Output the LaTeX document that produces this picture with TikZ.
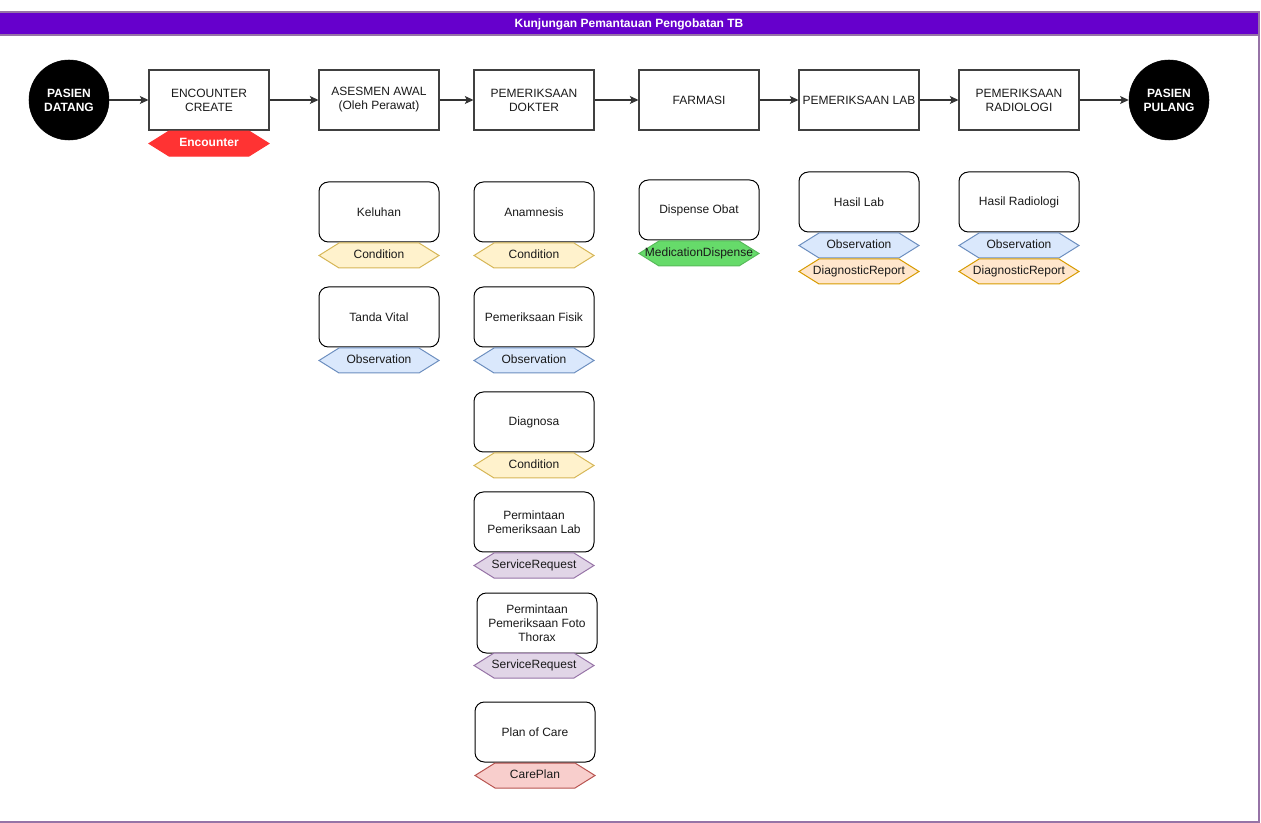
\documentclass[tikz,border=0pt]{standalone}
\usepackage{fontspec}
\setmainfont{Liberation Sans}
\usepackage{xcolor}
\usetikzlibrary{shapes.symbols,arrows.meta,positioning}

\definecolor{lanebar}{HTML}{6600CC}
\definecolor{laneline}{HTML}{9673A6}
\definecolor{inktext}{HTML}{1A1A1A}
\definecolor{condfill}{HTML}{FFF2CC}
\definecolor{condline}{HTML}{D6B656}
\definecolor{obsfill}{HTML}{DAE8FC}
\definecolor{obsline}{HTML}{6C8EBF}
\definecolor{reqfill}{HTML}{E1D5E7}
\definecolor{reqline}{HTML}{9673A6}
\definecolor{carefill}{HTML}{F8CECC}
\definecolor{careline}{HTML}{B85450}
\definecolor{repfill}{HTML}{FFE6CC}
\definecolor{repline}{HTML}{D79B00}
\definecolor{medfill}{HTML}{66DB6A}
\definecolor{encfill}{HTML}{FF3333}

\begin{document}
\begin{tikzpicture}[
  x=0.75pt,y=-0.75pt,
  node distance=0pt,
  every node/.style={font=\fontsize{9}{10.5}\selectfont,text=inktext},
  endpoint/.style={circle,fill=black,draw=black,minimum size=60pt,inner sep=0pt,
    align=center,text=white,font=\fontsize{9}{10.5}\selectfont\bfseries},
  stagebox/.style={draw=black!75,line width=0.8pt,fill=white,align=center,
    minimum width=90pt,minimum height=45pt,inner sep=2pt},
  taskbox/.style={draw=black,line width=0.75pt,fill=white,rounded corners=7pt,
    align=center,minimum width=90pt,minimum height=45pt,inner sep=2pt},
  resource/.style={shape=signal,signal to=east and west,signal pointer angle=64,
    minimum width=90pt,text height=6.6pt,text depth=1.9pt,
    inner xsep=-22pt,inner ysep=5.125pt,line width=0.75pt},
  condition/.style={resource,fill=condfill,draw=condline},
  observation/.style={resource,fill=obsfill,draw=obsline},
  servicereq/.style={resource,fill=reqfill,draw=reqline},
  careplan/.style={resource,fill=carefill,draw=careline},
  diagreport/.style={resource,fill=repfill,draw=repline},
  meddispense/.style={resource,fill=medfill,draw=medfill!85!black},
  encres/.style={resource,fill=encfill,draw=encfill,text=white,
    font=\fontsize{9}{10.5}\selectfont\bfseries},
  flow/.style={-{Stealth[length=6.5pt,width=6pt,inset=1.5pt]},line width=0.8pt,draw=black!80}
]
\useasboundingbox (0,0) rectangle (1261,823);

% swimlane
\draw[laneline,line width=0.8pt] (-1,12) rectangle (1259,822);
\draw[laneline,fill=lanebar,line width=0.8pt] (-1,12) rectangle (1259,35);
\node[text=white,font=\fontsize{9}{10.5}\selectfont\bfseries] (title) at (629,24)
  {Kunjungan Pemantauan Pengobatan TB};

% main flow
\node[endpoint] (datang) at (69,100) {PASIEN\\DATANG};
\node[stagebox] (encounter) at (209,100) {ENCOUNTER\\CREATE};
\node[stagebox] (asesmen) at (379,100) {ASESMEN AWAL\\(Oleh Perawat)};
\node[stagebox] (dokter) at (534,100) {PEMERIKSAAN\\DOKTER};
\node[stagebox] (farmasi) at (699,100) {FARMASI};
\node[stagebox] (lab) at (859,100) {PEMERIKSAAN LAB};
\node[stagebox] (radiologi) at (1019,100) {PEMERIKSAAN\\RADIOLOGI};
\node[endpoint] (pulang) at (1169,100) {PASIEN\\PULANG};

\node[encres, below=of encounter] (encres1) {Encounter};

\draw[flow] (datang) -- (encounter);
\draw[flow] (encounter) -- (asesmen);
\draw[flow] (asesmen) -- (dokter);
\draw[flow] (dokter) -- (farmasi);
\draw[flow] (farmasi) -- (lab);
\draw[flow] (lab) -- (radiologi);
\draw[flow] (radiologi) -- (pulang);

% asesmen awal
\node[taskbox] (keluhan) at (379,212) {Keluhan};
\node[condition, below=of keluhan] (keluhanres) {Condition};
\node[taskbox] (vital) at (379,317) {Tanda Vital};
\node[observation, below=of vital] (vitalres) {Observation};

% pemeriksaan dokter
\node[taskbox] (anamnesis) at (534,212) {Anamnesis};
\node[condition, below=of anamnesis] (anamnesisres) {Condition};
\node[taskbox] (fisik) at (534,317) {Pemeriksaan Fisik};
\node[observation, below=of fisik] (fisikres) {Observation};
\node[taskbox] (diagnosa) at (534,422) {Diagnosa};
\node[condition, below=of diagnosa] (diagnosares) {Condition};
\node[taskbox] (mintalab) at (534,522) {Permintaan\\Pemeriksaan Lab};
\node[servicereq, below=of mintalab] (mintalabres) {ServiceRequest};
\node[taskbox] (mintafoto) at (537,623) {Permintaan\\Pemeriksaan Foto\\Thorax};
\node[servicereq] (mintafotores) at (534,665.5) {ServiceRequest};
\node[taskbox] (rencana) at (535,732) {Plan of Care};
\node[careplan, below=of rencana] (rencanares) {CarePlan};

% farmasi
\node[taskbox] (dispense) at (699,210) {Dispense Obat};
\node[meddispense, below=of dispense] (dispenseres) {MedicationDispense};

% lab dan radiologi
\node[taskbox] (hasillab) at (859,202) {Hasil Lab};
\node[observation, below=of hasillab] (hasillabobs) {Observation};
\node[diagreport, below=of hasillabobs] (hasillabrep) {DiagnosticReport};
\node[taskbox] (hasilrad) at (1019,202) {Hasil Radiologi};
\node[observation, below=of hasilrad] (hasilradobs) {Observation};
\node[diagreport, below=of hasilradobs] (hasilradrep) {DiagnosticReport};
\end{tikzpicture}
\end{document}
